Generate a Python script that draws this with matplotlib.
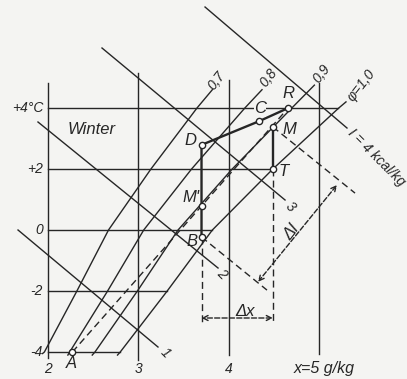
import matplotlib.pyplot as plt

# Ausschnitt aus dem I-x-Diagramm (Winter), x in g/kg, t in Grad C

# Gitterlinien
x_gitter = [2, 3, 4, 5]
x_gitter_unten = [-4.2, -4.25, -4.1, -4.05]
x_gitter_oben = [4.82, 5.15, 4.92, 4.82]
t_gitter = [4, 2, 0, -2, -4]
t_gitter_ende = [5.21, 4.49, 3.82, 3.32, 2.80]  # endet an phi = 1,0
t_labels = ['+4°C', '+2', '0', '-2', '-4']

# Linien gleicher relativer Feuchte
phi_labels = ['0,7', '0,8', '0,9', 'φ=1,0']
phi_t = [[-4.05, -4, -2, 0, 2, 4, 4.6],
         [-4.1, -4, -2, 0, 2, 4, 4.6],
         [-4.1, -4, -2, 0, 2, 4, 4.75],
         [-4.1, -4, -2, 0, 2, 4, 4.2]]
phi_x = [[1.94, 1.96, 2.32, 2.67, 3.14, 3.65, 3.82],
         [2.22, 2.24, 2.66, 3.06, 3.59, 4.18, 4.37],
         [2.49, 2.52, 2.99, 3.44, 4.04, 4.70, 4.95],
         [2.77, 2.80, 3.32, 3.82, 4.49, 5.22, 5.30]]
phi_lab_x = [3.87, 4.44, 5.03, 5.47]
phi_lab_t = [4.89, 4.98, 5.12, 4.75]

# Linien gleicher Enthalpie I (kcal/kg)
i_labels = ['1', '2', '3', 'I = 4 kcal/kg']
i_x0 = [1.668, 1.889, 2.598, 3.739]
i_t0 = [0.0, 3.541, 5.967, 7.311]
i_x1 = [3.218, 3.883, 4.625, 5.311]
i_t1 = [-3.836, -1.246, 0.984, 3.344]
i_lab_x = [3.296, 3.927, 4.68, 5.64]
i_lab_t = [-4.03, -1.45, 0.754, 2.39]

# Zustandspunkte
punkte = ['A', 'B', "M'", 'D', 'C', 'R', 'M', 'T']
punkt_x = [2.27, 3.70, 3.70, 3.70, 4.34, 4.66, 4.49, 4.49]
punkt_t = [-4.0, -0.23, 0.79, 2.79, 3.57, 4.0, 3.38, 2.0]
lab_x = [2.255, 3.595, 3.584, 3.573, 4.348, 4.658, 4.669, 4.613]
lab_t = [-4.39, -0.39, 1.05, 2.95, 3.97, 4.46, 3.31, 1.93]

farbe = '#262626'
hinter = '#f4f4f2'
strich = (0, (5, 3))

plt.rcParams['font.family'] = ['Liberation Sans', 'DejaVu Sans']
plt.rcParams['font.style'] = 'italic'

fig = plt.figure(figsize=(4.07, 3.79), dpi=100, facecolor=hinter)
ax = fig.add_axes([0, 0, 1, 1])
ax.set_facecolor(hinter)
ax.set_xlim(1.4684, 5.9756)
ax.set_ylim(-4.885, 7.541)
ax.axis('off')

# Gitter
for x, u, o in zip(x_gitter, x_gitter_unten, x_gitter_oben):
    ax.plot([x, x], [u, o], color=farbe, lw=1.0)
for t, e in zip(t_gitter, t_gitter_ende):
    ax.plot([2, e], [t, t], color=farbe, lw=1.0)

# phi-Linien
for xs, ts in zip(phi_x, phi_t):
    ax.plot(xs, ts, color=farbe, lw=1.0)
for s, x, t in zip(phi_labels, phi_lab_x, phi_lab_t):
    ax.text(x, t, s, fontsize=10, rotation=52, ha='center', va='center', color=farbe)

# I-Linien
for k in range(len(i_x0)):
    ax.plot([i_x0[k], i_x1[k]], [i_t0[k], i_t1[k]], color=farbe, lw=1.0)
    ax.text(i_lab_x[k], i_lab_t[k], i_labels[k], fontsize=10, rotation=-45,
            ha='center', va='center', color=farbe)

# Mischgerade A-R und Hilfslinien (gestrichelt)
A, B, Ms, D, C, R, M, T = range(8)
ax.plot([punkt_x[A], punkt_x[R]], [punkt_t[A], punkt_t[R]], color=farbe, lw=1.0, ls=strich)
ax.plot([punkt_x[B], punkt_x[B]], [punkt_t[B], -3.05], color=farbe, lw=1.0, ls=strich)
ax.plot([punkt_x[T], punkt_x[T]], [punkt_t[T], -3.05], color=farbe, lw=1.0, ls=strich)
ax.plot([punkt_x[B], 4.425], [punkt_t[B], -1.97], color=farbe, lw=1.0, ls=strich)
ax.plot([punkt_x[M], 5.40], [punkt_t[M], 1.21], color=farbe, lw=1.0, ls=strich)

# Zustandsaenderungen
ax.plot([punkt_x[B], punkt_x[D], punkt_x[C], punkt_x[R]],
        [punkt_t[B], punkt_t[D], punkt_t[C], punkt_t[R]], color=farbe, lw=1.7)
ax.plot([punkt_x[M], punkt_x[T]], [punkt_t[M], punkt_t[T]], color=farbe, lw=1.7)
ax.plot(punkt_x, punkt_t, 'o', ms=4.5, mfc='white', mec=farbe, mew=1.0, zorder=5)

# Masspfeile
pfeil = dict(arrowstyle='<->', color=farbe, lw=1.0, ls='--', mutation_scale=9,
             shrinkA=0, shrinkB=0)
ax.annotate('', xy=(punkt_x[B], -2.885), xytext=(punkt_x[T], -2.885), arrowprops=pfeil)
ax.annotate('', xy=(4.326, -1.70), xytext=(5.20, 1.475), arrowprops=pfeil)
ax.text(4.182, -2.656, 'Δx', fontsize=12, ha='center', va='center', color=farbe)
ax.text(4.702, -0.066, 'ΔI', fontsize=12, rotation=52, ha='center', va='center', color=farbe)

for s, x, t in zip(punkte, lab_x, lab_t):
    ax.text(x, t, s, fontsize=12, ha='center', va='center', color=farbe,
            bbox=dict(fc=hinter, ec='none', pad=0.2) if s == 'C' else None)

# Achsbeschriftung
for t, s in zip(t_gitter, t_labels):
    ax.text(1.945, t, s, fontsize=10, ha='right', va='center', color=farbe)
for x in x_gitter[:3]:
    ax.text(x, -4.557, str(x), fontsize=10, ha='center', va='center', color=farbe)
ax.text(4.724, -4.557, 'x=5 g/kg', fontsize=11.5, ha='left', va='center', color=farbe)
ax.text(2.221, 3.28, 'Winter', fontsize=12, ha='left', va='center', color=farbe)

fig.savefig('out.png', dpi=100, facecolor=hinter)
